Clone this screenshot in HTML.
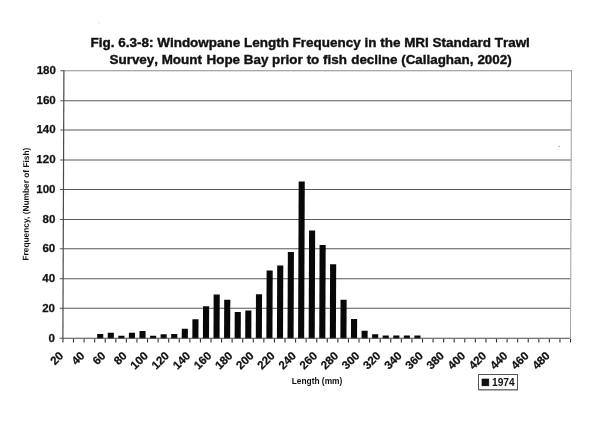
<!DOCTYPE html>
<html><head><meta charset="utf-8"><title>Fig. 6.3-8: Windowpane Length Frequency</title>
<style>
html,body{margin:0;padding:0;background:#fff;}
body{width:600px;height:428px;overflow:hidden;}
svg{display:block;}
text{font-family:"Liberation Sans",Arial,Helvetica,sans-serif;font-weight:bold;fill:#111;}
.t{font-size:13.45px;font-kerning:none;stroke:#111;stroke-width:0.4px;}
.yl{font-size:11.5px;text-anchor:end;stroke:#111;stroke-width:0.25px;}
.xl{font-size:11.5px;text-anchor:end;stroke:#111;stroke-width:0.25px;}
.at{font-size:8.35px;text-anchor:middle;}
.lg{font-size:10.2px;}
</style></head><body>
<svg width="600" height="428" viewBox="0 0 600 428">
<rect x="0" y="0" width="600" height="428" fill="#fff"/>
<text class="t" x="90.6" y="0" style="font-size:13.47px;font-kerning:none" transform="translate(0 46.8) scale(1 1.0)">Fig. 6.3-8: Windowpane Length Frequency in the MRI Standard Trawl</text>
<text class="t" y="0" style="font-size:13.42px" transform="translate(0 64.0) scale(1 1.0)"><tspan x="109.56">Survey,</tspan> <tspan x="161.65">Mount</tspan> <tspan x="206.55">Hope</tspan> <tspan x="243.85">Bay</tspan> <tspan x="272.07">prior</tspan> <tspan x="306.64">to</tspan> <tspan x="323.02">fish</tspan> <tspan x="351.20">decline</tspan> <tspan x="401.18">(Callaghan,</tspan> <tspan x="477.38">2002)</tspan></text>
<g transform="matrix(1,0,-0.003731,1,1.262,0)">
<rect x="62.90" y="307.80" width="507.60" height="1" fill="#5a5a5a"/>
<rect x="62.90" y="278.30" width="507.60" height="1" fill="#5a5a5a"/>
<rect x="62.90" y="248.17" width="507.60" height="1" fill="#5a5a5a"/>
<rect x="62.90" y="219.00" width="507.60" height="1" fill="#5a5a5a"/>
<rect x="62.90" y="188.96" width="507.60" height="1" fill="#5a5a5a"/>
<rect x="62.90" y="159.46" width="507.60" height="1" fill="#5a5a5a"/>
<rect x="62.90" y="129.46" width="507.60" height="1" fill="#5a5a5a"/>
<rect x="62.90" y="100.16" width="507.60" height="1" fill="#5a5a5a"/>
<rect x="62.90" y="70.16" width="507.60" height="1" fill="#8c8c8c"/>
<rect x="570.00" y="70.16" width="1" height="267.84" fill="#a0a0a0"/>
<rect x="59.5" y="337.70" width="3.40" height="1" fill="#555"/>
<text x="54.9" y="341.70" class="yl">0</text>
<rect x="59.5" y="307.80" width="3.40" height="1" fill="#555"/>
<text x="54.9" y="311.80" class="yl">20</text>
<rect x="59.5" y="278.30" width="3.40" height="1" fill="#555"/>
<text x="54.9" y="282.30" class="yl">40</text>
<rect x="59.5" y="248.17" width="3.40" height="1" fill="#555"/>
<text x="54.9" y="252.17" class="yl">60</text>
<rect x="59.5" y="219.00" width="3.40" height="1" fill="#555"/>
<text x="54.9" y="223.00" class="yl">80</text>
<rect x="59.5" y="188.96" width="3.40" height="1" fill="#555"/>
<text x="54.9" y="192.96" class="yl">100</text>
<rect x="59.5" y="159.46" width="3.40" height="1" fill="#555"/>
<text x="54.9" y="163.46" class="yl">120</text>
<rect x="59.5" y="129.46" width="3.40" height="1" fill="#555"/>
<text x="54.9" y="133.46" class="yl">140</text>
<rect x="59.5" y="100.16" width="3.40" height="1" fill="#555"/>
<text x="54.9" y="104.16" class="yl">160</text>
<rect x="59.5" y="70.16" width="3.40" height="1" fill="#555"/>
<text x="54.9" y="74.16" class="yl">180</text>
<rect x="97.16" y="334.10" width="6.1" height="4.40" fill="#080808"/>
<rect x="107.74" y="332.70" width="6.1" height="5.80" fill="#080808"/>
<rect x="118.31" y="335.80" width="6.1" height="2.70" fill="#080808"/>
<rect x="128.89" y="332.70" width="6.1" height="5.80" fill="#080808"/>
<rect x="139.46" y="330.90" width="6.1" height="7.60" fill="#080808"/>
<rect x="150.04" y="335.80" width="6.1" height="2.70" fill="#080808"/>
<rect x="160.61" y="334.20" width="6.1" height="4.30" fill="#080808"/>
<rect x="171.19" y="334.10" width="6.1" height="4.40" fill="#080808"/>
<rect x="181.76" y="328.70" width="6.1" height="9.80" fill="#080808"/>
<rect x="192.34" y="319.30" width="6.1" height="19.20" fill="#080808"/>
<rect x="202.91" y="306.20" width="6.1" height="32.30" fill="#080808"/>
<rect x="213.49" y="294.50" width="6.1" height="44.00" fill="#080808"/>
<rect x="224.06" y="299.80" width="6.1" height="38.70" fill="#080808"/>
<rect x="234.64" y="312.00" width="6.1" height="26.50" fill="#080808"/>
<rect x="245.21" y="310.50" width="6.1" height="28.00" fill="#080808"/>
<rect x="255.79" y="294.30" width="6.1" height="44.20" fill="#080808"/>
<rect x="266.36" y="270.50" width="6.1" height="68.00" fill="#080808"/>
<rect x="276.94" y="265.60" width="6.1" height="72.90" fill="#080808"/>
<rect x="287.51" y="252.10" width="6.1" height="86.40" fill="#080808"/>
<rect x="298.09" y="181.40" width="6.1" height="157.10" fill="#080808"/>
<rect x="308.66" y="230.40" width="6.1" height="108.10" fill="#080808"/>
<rect x="319.24" y="245.00" width="6.1" height="93.50" fill="#080808"/>
<rect x="329.81" y="264.30" width="6.1" height="74.20" fill="#080808"/>
<rect x="340.39" y="299.80" width="6.1" height="38.70" fill="#080808"/>
<rect x="350.96" y="318.90" width="6.1" height="19.60" fill="#080808"/>
<rect x="361.54" y="330.80" width="6.1" height="7.70" fill="#080808"/>
<rect x="372.11" y="334.20" width="6.1" height="4.30" fill="#080808"/>
<rect x="382.69" y="335.60" width="6.1" height="2.90" fill="#080808"/>
<rect x="393.26" y="335.60" width="6.1" height="2.90" fill="#080808"/>
<rect x="403.84" y="335.60" width="6.1" height="2.90" fill="#080808"/>
<rect x="414.41" y="335.60" width="6.1" height="2.90" fill="#080808"/>
<rect x="62.30" y="70.16" width="1.2" height="268.84" fill="#4a4a4a"/>
<rect x="62.90" y="337.85" width="507.60" height="1" fill="#4a4a4a"/>
<rect x="62.40" y="339" width="1.1" height="3.4" fill="#333"/>
<rect x="72.97" y="339" width="1.1" height="3.4" fill="#333"/>
<rect x="83.55" y="339" width="1.1" height="3.4" fill="#333"/>
<rect x="94.12" y="339" width="1.1" height="3.4" fill="#333"/>
<rect x="104.70" y="339" width="1.1" height="3.4" fill="#333"/>
<rect x="115.28" y="339" width="1.1" height="3.4" fill="#333"/>
<rect x="125.85" y="339" width="1.1" height="3.4" fill="#333"/>
<rect x="136.42" y="339" width="1.1" height="3.4" fill="#333"/>
<rect x="147.00" y="339" width="1.1" height="3.4" fill="#333"/>
<rect x="157.57" y="339" width="1.1" height="3.4" fill="#333"/>
<rect x="168.15" y="339" width="1.1" height="3.4" fill="#333"/>
<rect x="178.72" y="339" width="1.1" height="3.4" fill="#333"/>
<rect x="189.30" y="339" width="1.1" height="3.4" fill="#333"/>
<rect x="199.88" y="339" width="1.1" height="3.4" fill="#333"/>
<rect x="210.45" y="339" width="1.1" height="3.4" fill="#333"/>
<rect x="221.03" y="339" width="1.1" height="3.4" fill="#333"/>
<rect x="231.60" y="339" width="1.1" height="3.4" fill="#333"/>
<rect x="242.17" y="339" width="1.1" height="3.4" fill="#333"/>
<rect x="252.75" y="339" width="1.1" height="3.4" fill="#333"/>
<rect x="263.32" y="339" width="1.1" height="3.4" fill="#333"/>
<rect x="273.90" y="339" width="1.1" height="3.4" fill="#333"/>
<rect x="284.47" y="339" width="1.1" height="3.4" fill="#333"/>
<rect x="295.05" y="339" width="1.1" height="3.4" fill="#333"/>
<rect x="305.62" y="339" width="1.1" height="3.4" fill="#333"/>
<rect x="316.20" y="339" width="1.1" height="3.4" fill="#333"/>
<rect x="326.77" y="339" width="1.1" height="3.4" fill="#333"/>
<rect x="337.35" y="339" width="1.1" height="3.4" fill="#333"/>
<rect x="347.92" y="339" width="1.1" height="3.4" fill="#333"/>
<rect x="358.50" y="339" width="1.1" height="3.4" fill="#333"/>
<rect x="369.07" y="339" width="1.1" height="3.4" fill="#333"/>
<rect x="379.65" y="339" width="1.1" height="3.4" fill="#333"/>
<rect x="390.22" y="339" width="1.1" height="3.4" fill="#333"/>
<rect x="400.80" y="339" width="1.1" height="3.4" fill="#333"/>
<rect x="411.37" y="339" width="1.1" height="3.4" fill="#333"/>
<rect x="421.95" y="339" width="1.1" height="3.4" fill="#333"/>
<rect x="432.52" y="339" width="1.1" height="3.4" fill="#333"/>
<rect x="443.10" y="339" width="1.1" height="3.4" fill="#333"/>
<rect x="453.67" y="339" width="1.1" height="3.4" fill="#333"/>
<rect x="464.25" y="339" width="1.1" height="3.4" fill="#333"/>
<rect x="474.82" y="339" width="1.1" height="3.4" fill="#333"/>
<rect x="485.40" y="339" width="1.1" height="3.4" fill="#333"/>
<rect x="495.97" y="339" width="1.1" height="3.4" fill="#333"/>
<rect x="506.55" y="339" width="1.1" height="3.4" fill="#333"/>
<rect x="517.12" y="339" width="1.1" height="3.4" fill="#333"/>
<rect x="527.70" y="339" width="1.1" height="3.4" fill="#333"/>
<rect x="538.27" y="339" width="1.1" height="3.4" fill="#333"/>
<rect x="548.85" y="339" width="1.1" height="3.4" fill="#333"/>
<rect x="559.42" y="339" width="1.1" height="3.4" fill="#333"/>
<rect x="570.00" y="339" width="1.1" height="3.4" fill="#333"/>
<text x="64.19" y="356.50" class="xl" transform="rotate(-45 64.19 356.50)">20</text>
<text x="85.34" y="356.50" class="xl" transform="rotate(-45 85.34 356.50)">40</text>
<text x="106.49" y="356.50" class="xl" transform="rotate(-45 106.49 356.50)">60</text>
<text x="127.64" y="356.50" class="xl" transform="rotate(-45 127.64 356.50)">80</text>
<text x="148.79" y="356.50" class="xl" transform="rotate(-45 148.79 356.50)">100</text>
<text x="169.94" y="356.50" class="xl" transform="rotate(-45 169.94 356.50)">120</text>
<text x="191.09" y="356.50" class="xl" transform="rotate(-45 191.09 356.50)">140</text>
<text x="212.24" y="356.50" class="xl" transform="rotate(-45 212.24 356.50)">160</text>
<text x="233.39" y="356.50" class="xl" transform="rotate(-45 233.39 356.50)">180</text>
<text x="254.54" y="356.50" class="xl" transform="rotate(-45 254.54 356.50)">200</text>
<text x="275.69" y="356.50" class="xl" transform="rotate(-45 275.69 356.50)">220</text>
<text x="296.84" y="356.50" class="xl" transform="rotate(-45 296.84 356.50)">240</text>
<text x="317.99" y="356.50" class="xl" transform="rotate(-45 317.99 356.50)">260</text>
<text x="339.14" y="356.50" class="xl" transform="rotate(-45 339.14 356.50)">280</text>
<text x="360.29" y="356.50" class="xl" transform="rotate(-45 360.29 356.50)">300</text>
<text x="381.44" y="356.50" class="xl" transform="rotate(-45 381.44 356.50)">320</text>
<text x="402.59" y="356.50" class="xl" transform="rotate(-45 402.59 356.50)">340</text>
<text x="423.74" y="356.50" class="xl" transform="rotate(-45 423.74 356.50)">360</text>
<text x="444.89" y="356.50" class="xl" transform="rotate(-45 444.89 356.50)">380</text>
<text x="466.04" y="356.50" class="xl" transform="rotate(-45 466.04 356.50)">400</text>
<text x="487.19" y="356.50" class="xl" transform="rotate(-45 487.19 356.50)">420</text>
<text x="508.34" y="356.50" class="xl" transform="rotate(-45 508.34 356.50)">440</text>
<text x="529.49" y="356.50" class="xl" transform="rotate(-45 529.49 356.50)">460</text>
<text x="550.64" y="356.50" class="xl" transform="rotate(-45 550.64 356.50)">480</text>
<text class="at" x="28.3" y="204.1" transform="rotate(-90 28.3 204.1)">Frequency, (Number of Fish)</text>
</g>
<text class="at" x="317" y="384.0">Length (mm)</text>
<rect x="98.5" y="22.5" width="1" height="1" fill="#ccc"/>
<rect x="558.5" y="146" width="1.5" height="1" fill="#aaa"/>
<rect x="478.5" y="374.5" width="39" height="15.2" fill="#fff" stroke="#555" stroke-width="1"/>
<rect x="479" y="390" width="39" height="0.6" fill="#999"/>
<rect x="482" y="379" width="6.8" height="6.8" fill="#111" stroke="#000" stroke-width="0.6"/>
<text class="lg" x="492" y="385.6">1974</text>
</svg>
</body></html>
